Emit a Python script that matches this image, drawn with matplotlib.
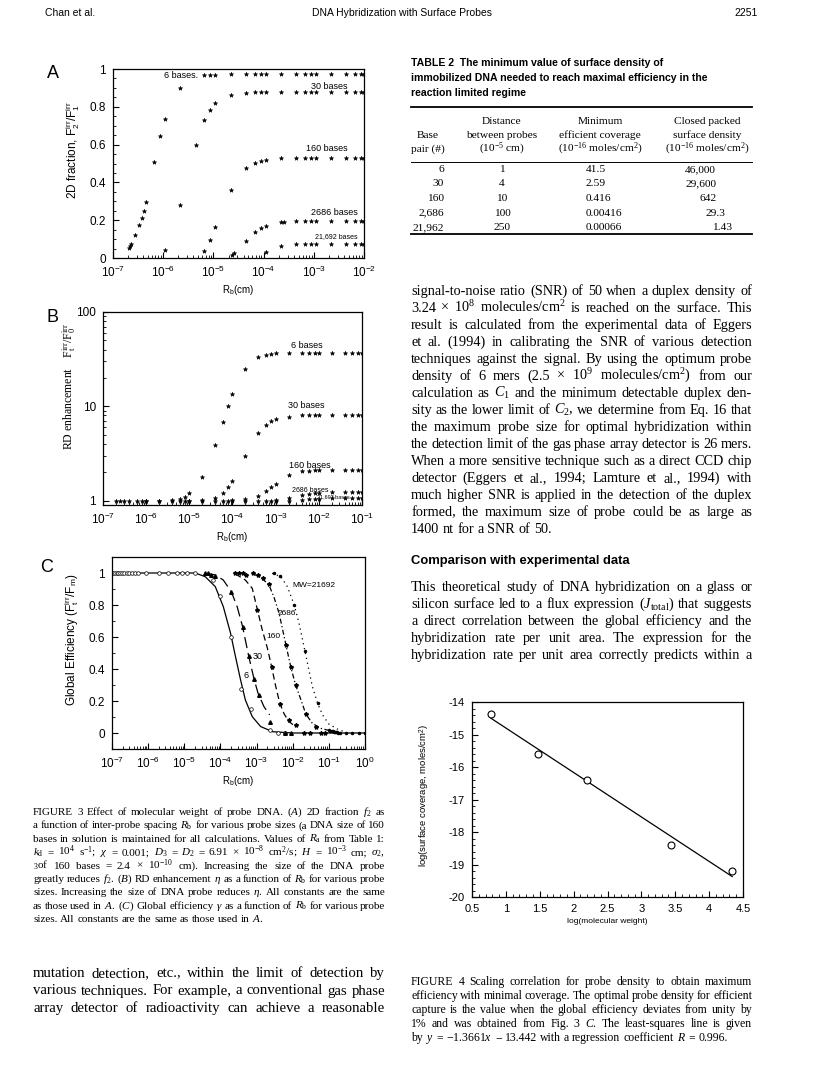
import matplotlib
matplotlib.use("Agg")
import matplotlib.pyplot as plt
import numpy as np
from matplotlib.ticker import MultipleLocator, LogLocator, NullFormatter, FormatStrFormatter

W, H = 816, 1072

# ---- Fig 3A: 2D fraction vs R_b ----
A6_x = [2.1e-7, 2.2e-7, 2.3e-7, 2.8e-7, 3.3e-7, 3.7e-7, 4.1e-7, 4.5e-7, 6.7e-7, 8.7e-7, 1.1e-6, 2.2e-6,
        6.6e-6, 8.4e-6, 1.1e-5, 2.2e-5, 4.4e-5, 6.6e-5, 8.7e-5, 1.1e-4, 2.2e-4, 4.4e-4, 6.6e-4, 8.7e-4,
        1.1e-3, 2.2e-3, 4.4e-3, 6.6e-3, 8.7e-3, 1.0e-2]
A6_y = [0.055, 0.065, 0.075, 0.123, 0.176, 0.21, 0.247, 0.295, 0.506, 0.644, 0.735, 0.90,
        0.966, 0.968, 0.970, 0.972, 0.973, 0.973, 0.973, 0.973, 0.973, 0.973, 0.973, 0.973,
        0.973, 0.973, 0.973, 0.973, 0.973, 0.973]
A30_x = [1.1e-6, 2.2e-6, 4.4e-6, 6.6e-6, 8.4e-6, 1.1e-5, 2.2e-5, 4.4e-5, 6.6e-5, 8.7e-5, 1.1e-4,
         2.2e-4, 4.4e-4, 6.6e-4, 8.7e-4, 1.1e-3, 2.2e-3, 4.4e-3, 6.6e-3, 8.7e-3, 1.0e-2]
A30_y = [0.04, 0.282, 0.598, 0.728, 0.785, 0.818, 0.862, 0.875, 0.877, 0.877, 0.877,
         0.878, 0.878, 0.878, 0.878, 0.878, 0.878, 0.878, 0.878, 0.878, 0.878]
A160_x = [6.6e-6, 8.5e-6, 1.1e-5, 2.2e-5, 4.4e-5, 6.6e-5, 8.7e-5, 1.1e-4, 2.2e-4, 4.4e-4, 6.6e-4,
          8.7e-4, 1.1e-3, 2.2e-3, 4.4e-3, 6.6e-3, 8.7e-3, 1.0e-2]
A160_y = [0.035, 0.097, 0.162, 0.36, 0.476, 0.503, 0.515, 0.52, 0.528, 0.53, 0.53,
          0.53, 0.53, 0.53, 0.53, 0.53, 0.53, 0.53]
A2686_x = [2.4e-5, 2.6e-5, 4.4e-5, 6.6e-5, 8.7e-5, 1.1e-4, 2.2e-4, 2.6e-4, 4.4e-4, 6.6e-4, 8.7e-4,
           1.1e-3, 2.2e-3, 4.4e-3, 6.6e-3, 8.7e-3, 1.0e-2]
A2686_y = [0.015, 0.025, 0.088, 0.136, 0.157, 0.171, 0.189, 0.192, 0.194, 0.194, 0.194,
           0.194, 0.194, 0.194, 0.194, 0.194, 0.194]
A21692_x = [1.1e-4, 2.2e-4, 4.4e-4, 6.6e-4, 8.7e-4, 1.1e-3, 2.2e-3, 4.4e-3, 6.6e-3, 8.7e-3, 1.0e-2]
A21692_y = [0.033, 0.065, 0.072, 0.073, 0.073, 0.073, 0.074, 0.074, 0.074, 0.074, 0.074]

# ---- Fig 3B: RD enhancement vs R_b ----
B6_x = [2e-7, 2.5e-7, 3e-7, 4e-7, 6e-7, 8e-7, 1e-6, 2e-6, 4e-6, 6e-6, 8e-6, 1e-5, 2e-5, 4e-5, 6e-5,
        8e-5, 1e-4, 2e-4, 4e-4, 6e-4, 8e-4, 1e-3, 2e-3, 4e-3, 6e-3, 8e-3, 1e-2, 2e-2, 4e-2, 6e-2,
        8e-2, 1e-1]
B6_y = [1, 1, 1, 1, 1, 1, 1, 1, 1.02, 1.05, 1.1, 1.2, 1.8, 3.9, 6.8,
        10.2, 13.4, 25, 33, 35, 36, 36.5, 37, 37, 37, 37, 37, 37, 37, 37,
        37, 37]
B30_x = [1e-6, 2e-6, 4e-6, 6e-6, 8e-6, 1e-5, 2e-5, 4e-5, 6e-5, 8e-5, 1e-4, 2e-4, 4e-4, 6e-4, 8e-4,
         1e-3, 2e-3, 4e-3, 6e-3, 8e-3, 1e-2, 2e-2, 4e-2, 6e-2, 8e-2, 1e-1]
B30_y = [1, 1, 1, 1, 1, 1, 1.02, 1.08, 1.2, 1.39, 1.6, 2.96, 5.25, 6.4, 7.0,
         7.3, 7.75, 8.0, 8.0, 8.0, 8.0, 8.0, 8.0, 8.0, 8.0, 8.0]
B160_x = [1e-5, 2e-5, 4e-5, 6e-5, 8e-5, 1e-4, 2e-4, 4e-4, 6e-4, 8e-4, 1e-3, 2e-3, 4e-3, 6e-3, 8e-3,
          1e-2, 2e-2, 4e-2, 6e-2, 8e-2, 1e-1]
B160_y = [1, 1, 1, 1, 1, 1.01, 1.03, 1.13, 1.27, 1.39, 1.5, 1.85, 2.05, 2.08, 2.09,
          2.09, 2.1, 2.1, 2.1, 2.1, 2.1]
B2686_x = [1e-4, 2e-4, 4e-4, 6e-4, 8e-4, 1e-3, 2e-3, 4e-3, 6e-3, 8e-3, 1e-2, 2e-2, 4e-2, 6e-2, 8e-2, 1e-1]
B2686_y = [1, 1, 1, 1, 1, 1.01, 1.06, 1.14, 1.18, 1.2, 1.21, 1.23, 1.23, 1.23, 1.23, 1.23]
B21692_x = [1e-3, 2e-3, 4e-3, 6e-3, 8e-3, 1e-2, 2e-2, 4e-2, 6e-2, 8e-2, 1e-1]
B21692_y = [1, 1, 1.02, 1.04, 1.05, 1.05, 1.06, 1.06, 1.06, 1.06, 1.06]

# ---- Fig 3C: global efficiency vs R_b (fitted curves + data marks) ----
C6_lx = [1e-7, 2e-5, 3.8e-5, 7.2e-5, 1.2e-4, 1.9e-4, 2.6e-4, 3.6e-4, 4.9e-4, 7.6e-4, 1.3e-3, 2.8e-3, 1e-2, 1.0]
C6_ly = [1, 1, 0.977, 0.915, 0.79, 0.625, 0.479, 0.333, 0.206, 0.102, 0.04, 0.008, 0, 0]
C30_lx = [3.8e-5, 7.2e-5, 1.2e-4, 2.0e-4, 2.9e-4, 4.1e-4, 6.1e-4, 8.5e-4, 1.1e-3, 1.6e-3, 2.3e-3]
C30_ly = [0.998, 0.988, 0.956, 0.883, 0.79, 0.665, 0.477, 0.338, 0.248, 0.165, 0.113]
C160_lx = [2.6e-4, 4.9e-4, 7.6e-4, 1.05e-3, 1.4e-3, 2.0e-3, 2.6e-3, 3.4e-3, 4.4e-3, 5.8e-3, 7.9e-3, 1.1e-2]
C160_ly = [0.994, 0.956, 0.904, 0.773, 0.654, 0.529, 0.415, 0.29, 0.185, 0.119, 0.071, 0.046]
C2686_lx = [7.6e-4, 1.4e-3, 2.2e-3, 3.0e-3, 4.2e-3, 6.5e-3, 8.8e-3, 1.2e-2, 1.7e-2, 2.3e-2, 3.5e-2, 6e-2, 0.126]
C2686_ly = [0.998, 0.967, 0.925, 0.852, 0.748, 0.55, 0.415, 0.3, 0.206, 0.119, 0.06, 0.029, 0.01]
C21692_lx = [2.7e-3, 4.7e-3, 7.1e-3, 1.1e-2, 1.5e-2, 2.2e-2, 2.8e-2, 3.5e-2, 4.9e-2, 6.7e-2, 0.10, 0.19, 0.30]
C21692_ly = [0.998, 0.977, 0.915, 0.8, 0.685, 0.508, 0.394, 0.29, 0.185, 0.113, 0.056, 0.019, 0.006]

C6_mx = [1e-7, 1.1e-7, 1.2e-7, 1.35e-7, 1.5e-7, 1.7e-7, 1.9e-7, 2.2e-7, 2.6e-7, 3e-7, 3.6e-7, 4.4e-7,
         5.4e-7, 9e-7, 2e-6, 3.6e-6, 6.3e-6, 8.7e-6, 1.2e-5, 2e-5, 6.1e-5, 1.0e-4, 2.0e-4, 3.7e-4,
         7e-4, 2.3e-3, 4e-3, 6e-3]
C6_my = [1, 1, 1, 1, 1, 1, 1, 1, 1, 1, 1, 1,
         1, 1, 1, 1, 1, 1, 1, 1, 0.956, 0.856, 0.6, 0.275, 0.15, 0.02, 0.0, 0.0]
C30_mx = [3.8e-5, 4.5e-5, 5.5e-5, 7e-5, 2.0e-4, 4.1e-4, 6.3e-4, 8.5e-4, 1.15e-3, 2.3e-3, 6e-3, 9e-3]
C30_my = [1, 1, 0.99, 0.98, 0.883, 0.66, 0.48, 0.34, 0.24, 0.07, 0.0, 0.0]
C160_mx = [2.6e-4, 3.2e-4, 4.2e-4, 5e-4, 1.05e-3, 2.6e-3, 4.4e-3, 8e-3, 1.2e-2, 2e-2, 3e-2]
C160_my = [1, 1, 1, 0.99, 0.77, 0.41, 0.18, 0.08, 0.05, 0.0, 0.0]
C2686_mx = [8e-4, 1.1e-3, 1.5e-3, 2.2e-3, 6.5e-3, 8.8e-3, 1.2e-2, 2.3e-2, 4.5e-2, 6e-2, 8e-2]
C2686_my = [1, 0.99, 0.97, 0.93, 0.55, 0.41, 0.3, 0.12, 0.04, 0.0, 0.0]
C21692_mx = [3e-3, 4.5e-3, 1.1e-2, 2.2e-2, 4.9e-2, 0.10, 0.11, 0.12, 0.13, 0.14, 0.15, 0.16, 0.17,
             0.18, 0.2, 0.3, 0.45, 0.7, 1.0]
C21692_my = [1, 0.98, 0.8, 0.51, 0.185, 0.02, 0.015, 0.012, 0.01, 0.008, 0.006, 0.005, 0.004,
             0.003, 0.002, 0.0, 0.0, 0.0, 0.0]

# ---- Fig 4: scaling correlation ----
F4_logmw = [0.78, 1.48, 2.2, 3.43, 4.34]
F4_logcov = [-14.38, -15.6, -16.4, -18.4, -19.2]
F4_fit_x = [0.78, 4.34]
F4_fit_y = [-14.50, -19.37]

# ---- Table 2 ----
T_base = ["6", "30", "160", "2,686", "21,962"]
T_dist = ["1", "4", "10", "100", "250"]
T_cov = ["41.5", "2.59", "0.416", "0.00416", "0.00066"]
T_closed = ["46,000", "29,600", "642", "29.3", "1.43"]

SANS = ["Liberation Sans", "DejaVu Sans"]
SERIF = ["Liberation Serif", "DejaVu Serif"]

plt.rcParams["font.family"] = SANS
plt.rcParams["axes.unicode_minus"] = False
plt.rcParams["mathtext.fontset"] = "custom"
plt.rcParams["mathtext.rm"] = "Liberation Serif"
plt.rcParams["mathtext.it"] = "Liberation Serif:italic"
plt.rcParams["mathtext.bf"] = "Liberation Serif:bold"
plt.rcParams["mathtext.sf"] = "Liberation Sans"

fig = plt.figure(figsize=(W / 100, H / 100), dpi=100)
renderer = fig.canvas.get_renderer()


def px_axes(l, t, r, b):
    return fig.add_axes([l / W, 1 - b / H, (r - l) / W, (b - t) / H])


def ftext(x, y, s, **kw):
    return fig.text(x / W, 1 - y / H, s, **kw)


def justified(lines, x0, x1, y0, dy, size, family=SERIF, last_ragged=True):
    for i, line in enumerate(lines):
        y = y0 + i * dy
        words = line.split()
        ragged = (i == len(lines) - 1 and last_ragged) or len(words) < 2
        s = size
        while True:
            space = 0.25 * s * 100 / 72
            ts = [ftext(0, y, w, fontsize=s, family=family, va="baseline") for w in words]
            widths = [t.get_window_extent(renderer).width for t in ts]
            gap = space if ragged else (x1 - x0 - sum(widths)) / (len(words) - 1)
            if gap >= 0.7 * space or s < 5:
                break
            for t in ts:
                t.remove()
            s -= 0.2
        x = x0
        for t, w in zip(ts, widths):
            t.set_x(x / W)
            x += w + gap


def style(ax):
    ax.tick_params(which="both", direction="in", top=False, right=False, labelsize=8.5)
    ax.tick_params(which="major", length=4, width=0.8, pad=5)
    ax.tick_params(which="minor", length=2.5, width=0.6)
    for s in ax.spines.values():
        s.set_linewidth(0.9)


def logx(ax):
    ax.set_xscale("log")
    ax.xaxis.set_major_locator(LogLocator(base=10, numticks=20))
    ax.xaxis.set_minor_locator(LogLocator(base=10, subs=np.arange(2, 10), numticks=20))
    ax.xaxis.set_minor_formatter(NullFormatter())


# header
ftext(45, 16, "Chan et al.", fontsize=7.5, family=SANS, va="baseline")
ftext(402, 16, "DNA Hybridization with Surface Probes", fontsize=7.5, family=SANS, va="baseline", ha="center")
ftext(758, 16, "2251", fontsize=7.5, family=SANS, va="baseline", ha="right")

mk = dict(ls="none", marker="*", ms=3.2, color="black", mew=0.4)

# Panel A
ax = px_axes(113, 69, 364, 258)
logx(ax)
for xs, ys in [(A6_x, A6_y), (A30_x, A30_y), (A160_x, A160_y), (A2686_x, A2686_y), (A21692_x, A21692_y)]:
    ax.plot(xs, ys, **mk)
ax.set_xlim(1e-7, 1e-2)
ax.set_ylim(0, 1)
ax.yaxis.set_major_locator(MultipleLocator(0.2))
ax.yaxis.set_minor_locator(MultipleLocator(0.05))
ax.yaxis.set_major_formatter(FormatStrFormatter("%g"))
style(ax)
ax.set_xlabel(r"R$_{\mathsf{b}}$(cm)", fontsize=7, labelpad=2)
ax.text(5e-6, 0.968, "6 bases.", fontsize=6.5, ha="right", va="center")
ax.text(2e-3, 0.905, "30 bases", fontsize=6.5, ha="center", va="center")
ax.text(1.8e-3, 0.58, "160 bases", fontsize=6.5, ha="center", va="center")
ax.text(2.6e-3, 0.24, "2686 bases", fontsize=6.5, ha="center", va="center")
ax.text(2.8e-3, 0.115, "21,692 bases", fontsize=5, ha="center", va="center")
ftext(47, 78, "A", fontsize=13, family=SANS)
ftext(73, 150, r"2D fraction, F$_{\mathsf{2}}^{\mathsf{irr}}$/F$_{\mathsf{1}}^{\mathsf{irr}}$",
      fontsize=8.5, rotation=90, ha="center", va="center")

# Panel B
ax = px_axes(103, 312, 362, 505)
logx(ax)
ax.set_yscale("log")
for xs, ys in [(B6_x, B6_y), (B30_x, B30_y), (B160_x, B160_y), (B2686_x, B2686_y), (B21692_x, B21692_y)]:
    ax.plot(xs, ys, **mk)
ax.set_xlim(1e-7, 1e-1)
ax.set_ylim(0.9, 100)
ax.yaxis.set_major_locator(LogLocator(base=10, numticks=10))
ax.yaxis.set_minor_locator(LogLocator(base=10, subs=np.arange(2, 10), numticks=10))
ax.yaxis.set_minor_formatter(NullFormatter())
ax.yaxis.set_major_formatter(FormatStrFormatter("%g"))
style(ax)
ax.set_xlabel(r"R$_{\mathsf{b}}$(cm)", fontsize=7, labelpad=2)
ax.text(5.2e-3, 44, "6 bases", fontsize=6.5, ha="center", va="center")
ax.text(5.2e-3, 10.3, "30 bases", fontsize=6.5, ha="center", va="center")
ax.text(6.2e-3, 2.35, "160 bases", fontsize=6.5, ha="center", va="center")
ax.text(6.2e-3, 1.27, "2686 bases", fontsize=5, ha="center", va="center")
ax.text(2.2e-2, 1.09, "21,692 bases", fontsize=4, ha="center", va="center")
ftext(47, 322, "B", fontsize=13, family=SANS)
ftext(69, 386, r"RD enhancement    $\mathrm{F}_{\mathrm{t}}^{\mathrm{irr}}/\mathrm{F}_{\mathrm{0}}^{\mathrm{irr}}$",
      fontsize=8.5, family=SERIF, rotation=90, ha="center", va="center")

# Panel C
ax = px_axes(112, 557, 365, 749)
logx(ax)
ax.plot(C6_lx, C6_ly, color="black", lw=0.9, ls="-")
ax.plot(C30_lx, C30_ly, color="black", lw=0.9, ls=(0, (9, 4)))
ax.plot(C160_lx, C160_ly, color="black", lw=0.9, ls=(0, (5, 3)))
ax.plot(C2686_lx, C2686_ly, color="black", lw=0.9, ls=(0, (4, 2, 1, 2)))
ax.plot(C21692_lx, C21692_ly, color="black", lw=0.9, ls=(0, (1, 3)))
ax.plot(C6_mx, C6_my, ls="none", marker="o", ms=2.6, mfc="white", mec="black", mew=0.5)
ax.plot(C30_mx, C30_my, ls="none", marker="^", ms=2.6, color="black")
ax.plot(C160_mx, C160_my, ls="none", marker="*", ms=3, color="black")
ax.plot(C2686_mx, C2686_my, ls="none", marker="*", ms=3, color="black")
ax.plot(C21692_mx, C21692_my, ls="none", marker=".", ms=3, color="black")
ax.set_xlim(1e-7, 1)
ax.set_ylim(-0.1, 1.1)
ax.yaxis.set_major_locator(MultipleLocator(0.2))
ax.yaxis.set_minor_locator(MultipleLocator(0.1))
ax.yaxis.set_major_formatter(FormatStrFormatter("%g"))
style(ax)
ax.set_xlabel(r"R$_{\mathsf{b}}$(cm)", fontsize=7, labelpad=2)
ax.text(1e-2, 0.92, "MW=21692", fontsize=6, ha="left", va="center")
ax.text(7e-3, 0.744, "2686", fontsize=6, ha="center", va="center")
ax.text(2.9e-3, 0.60, "160", fontsize=6, ha="center", va="center")
ax.text(1.1e-3, 0.477, "30", fontsize=6.5, ha="center", va="center")
ax.text(5.2e-4, 0.36, "6", fontsize=6.5, ha="center", va="center")
ftext(40, 572, "C", fontsize=13, family=SANS)
ftext(72, 640, r"Global Efficiency (F$_{\mathsf{t}}^{\mathsf{irr}}$/F$_{\mathsf{m}}$)",
      fontsize=8.5, rotation=90, ha="center", va="center")

# Figure 3 caption
cap3 = [
    r"FIGURE 3   Effect of molecular weight of probe DNA. ($\mathit{A}$) 2D fraction $\mathit{f}_2$ as",
    r"a function of inter-probe spacing $\mathit{R}_{\mathrm{b}}$ for various probe sizes (a DNA size of 160",
    r"bases in solution is maintained for all calculations. Values of $\mathit{R}_{\mathrm{a}}$ from Table 1:",
    r"$\mathit{k}_{\mathrm{d}}$ = 10$^4$ s$^{-1}$; $\chi$ = 0.001; $\mathit{D}_3$ = $\mathit{D}_2$ = 6.91 × 10$^{-8}$ cm$^2$/s; $\mathit{H}$ = 10$^{-3}$ cm; $\sigma_2$,",
    r"$_3$of 160 bases = 2.4 × 10$^{-10}$ cm). Increasing the size of the DNA probe",
    r"greatly reduces $\mathit{f}_2$. ($\mathit{B}$) RD enhancement $\eta$ as a function of $\mathit{R}_{\mathrm{b}}$ for various probe",
    r"sizes. Increasing the size of DNA probe reduces $\eta$. All constants are the same",
    r"as those used in $\mathit{A}$. ($\mathit{C}$) Global efficiency $\gamma$ as a function of $\mathit{R}_{\mathrm{b}}$ for various probe",
    r"sizes. All constants are the same as those used in $\mathit{A}$.",
]
justified(cap3, 33, 385, 815, 13.4, 8.0)

left_par = [
    "mutation detection, etc., within the limit of detection by",
    "various techniques. For example, a conventional gas phase",
    "array detector of radioactivity can achieve a reasonable",
]
justified(left_par, 33, 385, 977, 17.5, 10.6, last_ragged=False)

# Table 2
ftext(411, 66, "TABLE 2  The minimum value of surface density of", fontsize=7.6, weight="bold", va="baseline")
ftext(411, 81, "immobilized DNA needed to reach maximal efficiency in the", fontsize=7.6, weight="bold", va="baseline")
ftext(411, 96, "reaction limited regime", fontsize=7.6, weight="bold", va="baseline")
for yy, lw in [(107, 1.3), (162, 0.7), (234, 1.3)]:
    fig.add_artist(plt.Line2D([411 / W, 752 / W], [1 - yy / H, 1 - yy / H], color="black", lw=lw))
tk = dict(fontsize=8.2, family=SERIF, va="baseline")
ftext(502, 124, "Distance", ha="center", **tk)
ftext(600, 124, "Minimum", ha="center", **tk)
ftext(707, 124, "Closed packed", ha="center", **tk)
ftext(428, 138, "Base", ha="center", **tk)
ftext(502, 138, "between probes", ha="center", **tk)
ftext(600, 138, "efficient coverage", ha="center", **tk)
ftext(707, 138, "surface density", ha="center", **tk)
ftext(428, 152, "pair (#)", ha="center", **tk)
ftext(502, 152, r"(10$^{-5}$ cm)", ha="center", **tk)
ftext(600, 152, r"(10$^{-16}$ moles/cm$^2$)", ha="center", **tk)
ftext(707, 152, r"(10$^{-16}$ moles/cm$^2$)", ha="center", **tk)
closed_x = [685, 685, 700, 706, 712]
for i in range(5):
    yy = 172 + i * 14.5
    ftext(444, yy, T_base[i], ha="right", **tk)
    ftext(502, yy, T_dist[i], ha="center", **tk)
    ftext(586, yy, T_cov[i], ha="left", **tk)
    ftext(closed_x[i], yy, T_closed[i], ha="left", **tk)

right_par1 = [
    "signal-to-noise ratio (SNR) of 50 when a duplex density of",
    r"3.24 × 10$^8$ molecules/cm$^2$ is reached on the surface. This",
    "result is calculated from the experimental data of Eggers",
    "et al. (1994) in calibrating the SNR of various detection",
    "techniques against the signal. By using the optimum probe",
    r"density of 6 mers (2.5 × 10$^9$ molecules/cm$^2$) from our",
    r"calculation as $\mathit{C}_1$ and the minimum detectable duplex den-",
    r"sity as the lower limit of $\mathit{C}_2$, we determine from Eq. 16 that",
    "the maximum probe size for optimal hybridization within",
    "the detection limit of the gas phase array detector is 26 mers.",
    "When a more sensitive technique such as a direct CCD chip",
    "detector (Eggers et al., 1994; Lamture et al., 1994) with",
    "much higher SNR is applied in the detection of the duplex",
    "formed, the maximum size of probe could be as large as",
    "1400 nt for a SNR of 50.",
]
justified(right_par1, 411, 752, 295, 17, 10.3)

ftext(411, 564, "Comparison with experimental data", fontsize=9.4, weight="bold", va="baseline")

right_par2 = [
    "This theoretical study of DNA hybridization on a glass or",
    r"silicon surface led to a flux expression ($\mathit{J}_{\mathrm{total}}$) that suggests",
    "a direct correlation between the global efficiency and the",
    "hybridization rate per unit area. The expression for the",
    "hybridization rate per unit area correctly predicts within a",
]
justified(right_par2, 411, 752, 591, 17, 10.3, last_ragged=False)

# Figure 4
ax = px_axes(472, 702, 743, 897)
ax.plot(F4_fit_x, F4_fit_y, color="black", lw=0.9)
ax.plot(F4_logmw, F4_logcov, ls="none", marker="o", ms=5, mfc="white", mec="black", mew=0.8)
ax.set_xlim(0.5, 4.5)
ax.set_ylim(-20, -14)
ax.xaxis.set_major_locator(MultipleLocator(0.5))
ax.xaxis.set_minor_locator(MultipleLocator(0.1))
ax.xaxis.set_major_formatter(FormatStrFormatter("%g"))
ax.yaxis.set_major_locator(MultipleLocator(1))
ax.yaxis.set_minor_locator(MultipleLocator(0.2))
style(ax)
ax.tick_params(labelsize=8)
ax.set_xlabel("log(molecular weight)", fontsize=6, labelpad=3)
ftext(425, 795, r"log(surface coverage, moles/cm$^{\mathsf{2}}$)", fontsize=6.8,
      rotation=90, ha="center", va="center")

cap4 = [
    "FIGURE 4   Scaling correlation for probe density to obtain maximum",
    "efficiency with minimal coverage. The optimal probe density for efficient",
    "capture is the value when the global efficiency deviates from unity by",
    r"1% and was obtained from Fig. 3 $\mathit{C}$. The least-squares line is given",
    r"by $\mathit{y}$ = −1.3661$\mathit{x}$ − 13.442 with a regression coefficient $\mathit{R}$ = 0.996.",
]
justified(cap4, 411, 752, 985, 14, 8.5)

fig.savefig("out.png", dpi=100)
